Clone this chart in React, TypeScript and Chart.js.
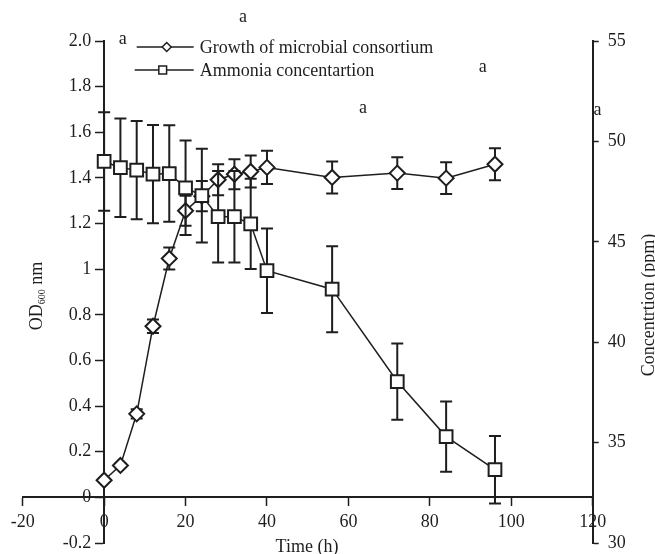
import React, { useEffect, useRef } from "react";
import { Chart, registerables } from "chart.js";

Chart.register(...registerables);

const FONT = '"Liberation Serif", "Times New Roman", serif';
const INK = "#1e1e1e";

// ---- data ----
const timeHours = [0, 4, 8, 12, 16, 20, 24, 28, 32, 36, 40, 56, 72, 84, 96];
const growthOD = [0.075, 0.14, 0.366, 0.75, 1.047, 1.256, 1.32, 1.392, 1.416, 1.428, 1.446, 1.402, 1.421, 1.399, 1.46];
const growthErr = [0.005, 0.008, 0.02, 0.03, 0.048, 0.066, 0.066, 0.068, 0.066, 0.07, 0.073, 0.07, 0.07, 0.07, 0.07];
const ammoniaPpm = [49.0, 48.69, 48.57, 48.37, 48.4, 47.69, 47.3, 46.25, 46.25, 45.89, 43.56, 42.64, 38.04, 35.3, 33.65];
const ammoniaErr = [2.45, 2.45, 2.45, 2.45, 2.4, 2.35, 2.33, 2.28, 2.28, 2.25, 2.1, 2.14, 1.9, 1.75, 1.68];

const xTickValues = [-20, 0, 20, 40, 60, 80, 100, 120];
const odTickValues = [-0.2, 0, 0.2, 0.4, 0.6, 0.8, 1.0, 1.2, 1.4, 1.6, 1.8, 2.0];
const odTickLabels = ["-0.2", "0", "0.2", "0.4", "0.6", "0.8", "1", "1.2", "1.4", "1.6", "1.8", "2.0"];
const ppmTickValues = [30, 35, 40, 45, 50, 55];

const seriesNames = ["Growth of microbial consortium", "Ammonia concentartion"];
const xTitle = "Time (h)";
const yTitleMain = "OD";
const yTitleSub = "600";
const yTitleTail = " nm";
const y1Title = "Concentrtion (ppm)";

// stray significance letters (data coordinates: time, OD)
const letterX = [34.1, 4.6, 93.0, 63.6, 121.2];
const letterY = [2.105, 2.006, 1.886, 1.706, 1.698];
const letterText = ["a", "a", "a", "a", "a"];

function drawMarker(ctx: CanvasRenderingContext2D, style: string, x: number, y: number, r: number) {
  ctx.beginPath();
  if (style === "rectRot") {
    ctx.moveTo(x, y - r);
    ctx.lineTo(x + r, y);
    ctx.lineTo(x, y + r);
    ctx.lineTo(x - r, y);
    ctx.closePath();
  } else {
    const s = r * Math.SQRT1_2;
    ctx.rect(x - s, y - s, 2 * s, 2 * s);
  }
  ctx.fillStyle = "#ffffff";
  ctx.fill();
  ctx.stroke();
}

const errorBarPlugin = {
  id: "errorBars",
  beforeDatasetsDraw(chart: any) {
    // left-axis tick labels, placed left of the tick marks at x = 0
    const ctx = chart.ctx as CanvasRenderingContext2D;
    const xs = chart.scales.x;
    const ys = chart.scales.y;
    const ax = xs.getPixelForValue(0);
    ctx.save();
    ctx.fillStyle = INK;
    ctx.font = `18px ${FONT}`;
    ctx.textAlign = "right";
    ctx.textBaseline = "middle";
    odTickValues.forEach((v, i) => {
      ctx.fillText(odTickLabels[i], ax - 13, ys.getPixelForValue(v));
    });
    ctx.restore();
  },
  beforeDatasetDraw(chart: any, args: any) {
    const ds = chart.data.datasets[args.index];
    const errs: number[] = ds.errors;
    if (!errs) return;
    const ctx = chart.ctx as CanvasRenderingContext2D;
    const xs = chart.scales.x;
    const ys = chart.scales[ds.yAxisID];
    ctx.save();
    ctx.strokeStyle = INK;
    ctx.lineWidth = 2;
    ds.data.forEach((p: any, i: number) => {
      const px = xs.getPixelForValue(p.x);
      const top = ys.getPixelForValue(p.y + errs[i]);
      const bot = ys.getPixelForValue(p.y - errs[i]);
      ctx.beginPath();
      ctx.moveTo(px, top);
      ctx.lineTo(px, bot);
      ctx.moveTo(px - 6, top);
      ctx.lineTo(px + 6, top);
      ctx.moveTo(px - 6, bot);
      ctx.lineTo(px + 6, bot);
      ctx.stroke();
    });
    ctx.restore();
  },
};

const annotationPlugin = {
  id: "annotations",
  afterDraw(chart: any) {
    const ctx = chart.ctx as CanvasRenderingContext2D;
    const xs = chart.scales.x;
    const ys = chart.scales.y;
    const area = chart.chartArea;
    ctx.save();
    ctx.fillStyle = INK;
    ctx.font = `18px ${FONT}`;
    ctx.textAlign = "center";
    ctx.textBaseline = "middle";
    letterText.forEach((t, i) => {
      ctx.fillText(t, xs.getPixelForValue(letterX[i]), ys.getPixelForValue(letterY[i]));
    });

    // legend
    const styles = ["rectRot", "rect"];
    const radii = [4.5, 5.5];
    const rowsY = [area.top + 6, area.top + 29];
    const lineStart = [area.left + 114, area.left + 112];
    const lineEnd = area.left + 171;
    const markX = [area.left + 144, area.left + 140];
    ctx.textAlign = "left";
    for (let i = 0; i < 2; i++) {
      ctx.strokeStyle = INK;
      ctx.lineWidth = 1.5;
      ctx.beginPath();
      ctx.moveTo(lineStart[i], rowsY[i]);
      ctx.lineTo(lineEnd, rowsY[i]);
      ctx.stroke();
      drawMarker(ctx, styles[i], markX[i], rowsY[i], radii[i]);
      ctx.fillStyle = INK;
      ctx.fillText(seriesNames[i], lineEnd + 6, rowsY[i] + 1);
    }

    // x title
    ctx.textAlign = "center";
    ctx.textBaseline = "alphabetic";
    ctx.fillText(xTitle, 307, area.bottom + 9);

    // left y title with subscript
    ctx.save();
    ctx.translate(42, 296);
    ctx.rotate(-Math.PI / 2);
    ctx.font = `18px ${FONT}`;
    const w1 = ctx.measureText(yTitleMain).width;
    const w3 = ctx.measureText(yTitleTail).width;
    ctx.font = `10px ${FONT}`;
    const w2 = ctx.measureText(yTitleSub).width;
    let sx = -(w1 + w2 + w3) / 2;
    ctx.textAlign = "left";
    ctx.font = `18px ${FONT}`;
    ctx.fillText(yTitleMain, sx, 0);
    sx += w1;
    ctx.font = `10px ${FONT}`;
    ctx.fillText(yTitleSub, sx, 3);
    sx += w2;
    ctx.font = `18px ${FONT}`;
    ctx.fillText(yTitleTail, sx, 0);
    ctx.restore();

    // right y title
    ctx.save();
    ctx.translate(654, 305);
    ctx.rotate(-Math.PI / 2);
    ctx.textAlign = "center";
    ctx.textBaseline = "alphabetic";
    ctx.fillText(y1Title, 0, 0);
    ctx.restore();

    ctx.restore();
  },
};

const zeroPad = (s: any) => {
  s.paddingTop = 0;
  s.paddingBottom = 0;
};

export default function App() {
  const ref = useRef<HTMLCanvasElement | null>(null);

  useEffect(() => {
    if (!ref.current) return;
    const tickFont = { family: FONT, size: 18 };
    const chart = new Chart(ref.current, {
      type: "line",
      data: {
        datasets: [
          {
            label: seriesNames[0],
            data: timeHours.map((t, i) => ({ x: t, y: growthOD[i] })),
            yAxisID: "y",
            order: 1,
            borderColor: INK,
            borderWidth: 1.5,
            pointStyle: "rectRot",
            pointRadius: 7.5,
            pointBorderWidth: 2,
            pointBackgroundColor: "#ffffff",
            pointBorderColor: INK,
            tension: 0,
            fill: false,
            errors: growthErr,
          } as any,
          {
            label: seriesNames[1],
            data: timeHours.map((t, i) => ({ x: t, y: ammoniaPpm[i] })),
            yAxisID: "y1",
            order: 0,
            borderColor: INK,
            borderWidth: 1.5,
            pointStyle: "rect",
            pointRadius: 9,
            pointBorderWidth: 2,
            pointBackgroundColor: "#ffffff",
            pointBorderColor: INK,
            tension: 0,
            fill: false,
            errors: ammoniaErr,
          } as any,
        ],
      },
      options: {
        responsive: false,
        animation: false,
        events: [],
        layout: { padding: { left: 22.7, top: 41, right: 0, bottom: 10.7 } },
        plugins: { legend: { display: false }, tooltip: { enabled: false } },
        scales: {
          x: {
            type: "linear",
            min: -20,
            max: 120,
            position: { y: 0 } as any,
            afterBuildTicks: (s: any) => {
              s.ticks = xTickValues.map((v) => ({ value: v }));
            },
            afterFit: (s: any) => {
              s.paddingLeft = 0;
              s.paddingRight = 0;
            },
            grid: { drawOnChartArea: false, drawTicks: true, tickLength: 8, tickWidth: 1.5, color: INK },
            border: { display: true, color: INK, width: 2 },
            ticks: {
              font: tickFont,
              color: INK,
              padding: 6,
              maxRotation: 0,
              autoSkip: false,
              callback: (v: any) => String(v),
            },
          },
          y: {
            type: "linear",
            min: -0.2,
            max: 2.0,
            position: { x: 0 } as any,
            afterBuildTicks: (s: any) => {
              s.ticks = odTickValues.map((v) => ({ value: v }));
            },
            afterFit: zeroPad,
            grid: { drawOnChartArea: false, drawTicks: true, tickLength: 8, tickWidth: 1.5, color: INK },
            border: { display: true, color: INK, width: 2 },
            ticks: { display: false },
          },
          y1: {
            type: "linear",
            min: 30,
            max: 55,
            position: "right",
            afterBuildTicks: (s: any) => {
              s.ticks = ppmTickValues.map((v) => ({ value: v }));
            },
            afterFit: (s: any) => {
              s.width = 62.3;
              s.paddingTop = 0;
              s.paddingBottom = 0;
            },
            grid: { drawOnChartArea: false, drawTicks: true, tickLength: 6, tickWidth: 1.5, color: INK },
            border: { display: true, color: INK, width: 2 },
            ticks: {
              font: tickFont,
              color: INK,
              padding: 9,
              autoSkip: false,
              callback: (v: any) => String(v),
            },
          },
        },
      },
      plugins: [errorBarPlugin, annotationPlugin],
    });
    return () => chart.destroy();
  }, []);

  return (
    <div style={{ position: "absolute", left: 0, top: 0, width: 655, height: 554, background: "#ffffff" }}>
      <canvas ref={ref} width={655} height={554} style={{ display: "block" }} />
    </div>
  );
}
